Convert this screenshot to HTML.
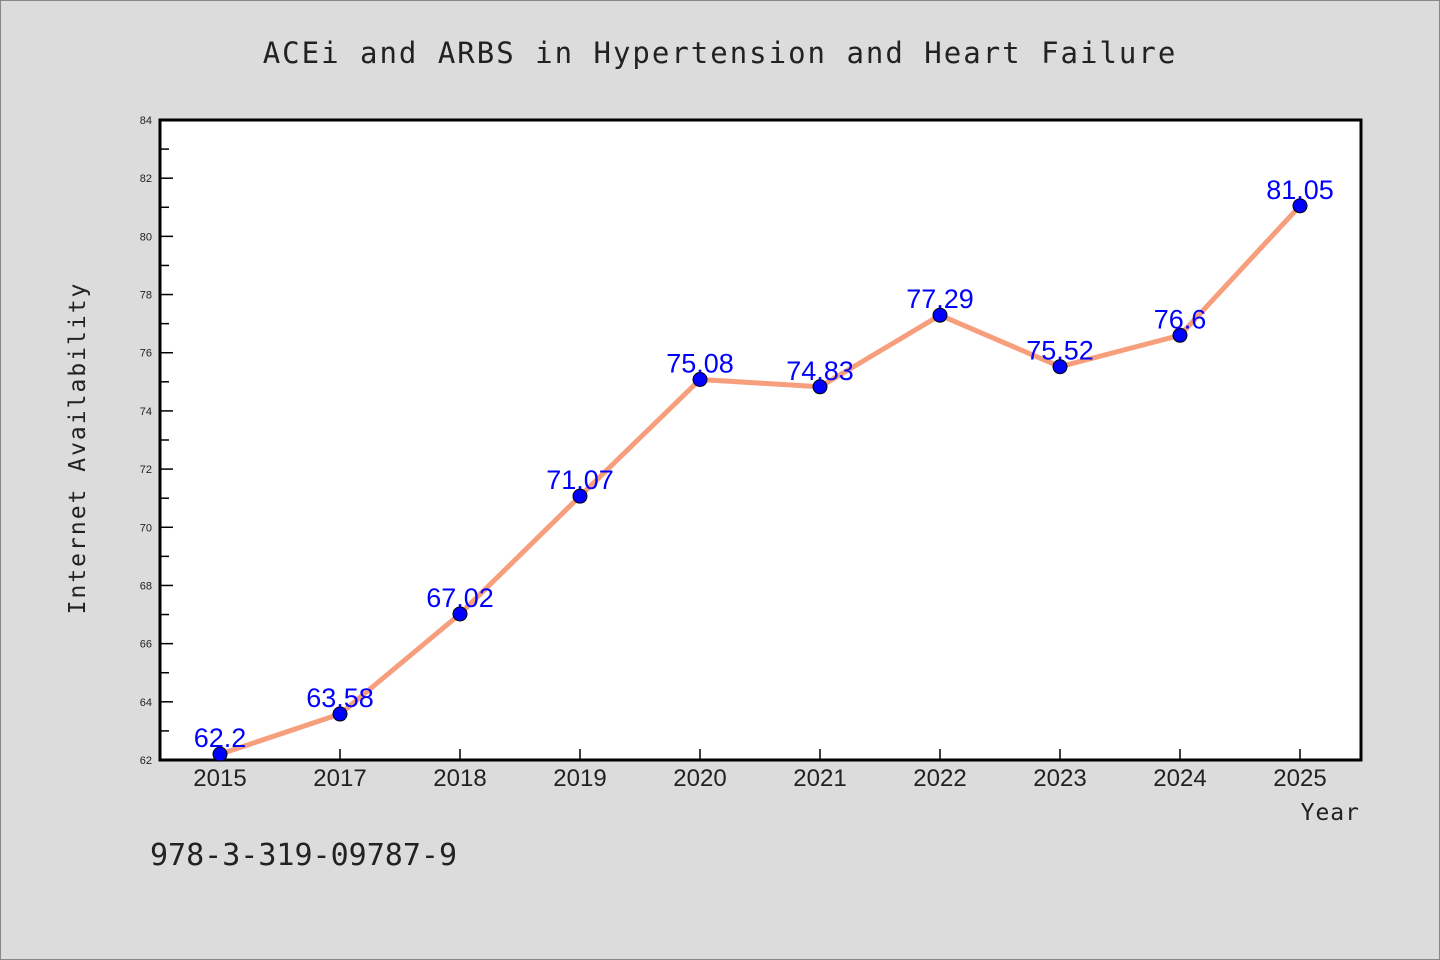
<!DOCTYPE html>
<html><head><meta charset="utf-8"><style>
body{margin:0;background:#dcdcdc;}
svg{display:block;}
.mono{font-family:"WenQuanYi Zen Hei","DejaVu Sans Mono",monospace;}
</style></head><body>
<svg id="chart" width="1440" height="960">
<rect x="0.5" y="0.5" width="1439" height="959" fill="#dcdcdc" stroke="#888"/>
<text class="mono" x="720" y="63" text-anchor="middle" font-size="29" fill="#222" letter-spacing="2">ACEi and ARBS in Hypertension and Heart Failure</text>
<rect x="160" y="120" width="1201" height="640" fill="#fff" stroke="#000" stroke-width="3"/>
<g id="yaxis"></g>
<g id="xaxis"></g>
<g id="series"></g>
<text class="mono" transform="translate(85,448) rotate(-90)" text-anchor="middle" font-size="23" fill="#222" letter-spacing="2">Internet Availability</text>
<text class="mono" x="1360" y="820" text-anchor="end" font-size="23" fill="#222" letter-spacing="1">Year</text>
<text class="mono" x="150" y="865" font-size="30" fill="#222">978-3-319-09787-9</text>
</svg>
<script>
const categories=["2015","2017","2018","2019","2020","2021","2022","2023","2024","2025"];
const values=[62.2,63.58,67.02,71.07,75.08,74.83,77.29,75.52,76.6,81.05];
const labels=["62.2","63.58","67.02","71.07","75.08","74.83","77.29","75.52","76.6","81.05"];
const yTicks=[62,64,66,68,70,72,74,76,78,80,82,84];
const NS="http://www.w3.org/2000/svg";
const x0=160,x1=1361,yTop=120,yBot=760,yMin=62,yMax=84;
const xs=i=>220+i*120;
const ys=v=>yBot-(v-yMin)/(yMax-yMin)*(yBot-yTop);
function mk(t,a,p){const e=document.createElementNS(NS,t);for(const k in a)e.setAttribute(k,a[k]);p.appendChild(e);return e;}
const ya=document.getElementById('yaxis'),xa=document.getElementById('xaxis'),se=document.getElementById('series');
yTicks.forEach(v=>{
 const y=ys(v);
 const l=mk('line',{x1:x0,x2:x0+13,y1:y,y2:y,stroke:'#000','stroke-width':1.5},ya);
 
 
 const t=mk('text',{x:x0-8,y:y+4,'text-anchor':'end','font-size':11,fill:'#222','font-family':'Liberation Sans, sans-serif'},ya);
 t.textContent=v;
 
 
 if(v<yMax){const ym=ys(v+1);const m=mk('line',{x1:x0,x2:x0+9,y1:ym,y2:ym,stroke:'#000','stroke-width':1.5},ya);
 
 }
});
categories.forEach((c,i)=>{
 const x=xs(i);
 const l=mk('line',{x1:x,x2:x,y1:yBot,y2:yBot-11,stroke:'#000','stroke-width':1.5},xa);
 
 
 const t=mk('text',{x:x,y:786,'text-anchor':'middle','font-size':24,fill:'#222','font-family':'Liberation Sans, sans-serif'},xa);
 t.textContent=c;
 
 
});
const pl=mk('polyline',{points:values.map((v,i)=>xs(i)+','+ys(v)).join(' '),fill:'none',stroke:'#f79f7c','stroke-width':5,'stroke-linejoin':'round'},se);


values.forEach((v,i)=>{
 const c=mk('circle',{cx:xs(i),cy:ys(v),r:7,fill:'#0000ff',stroke:'#000','stroke-width':1},se);
 
 
 const t=mk('text',{x:xs(i),y:ys(v)-7,'text-anchor':'middle','font-size':27,fill:'#0000ff','font-family':'Liberation Sans, sans-serif'},se);
 t.textContent=labels[i];
 
 
});
</script>
</body></html>
